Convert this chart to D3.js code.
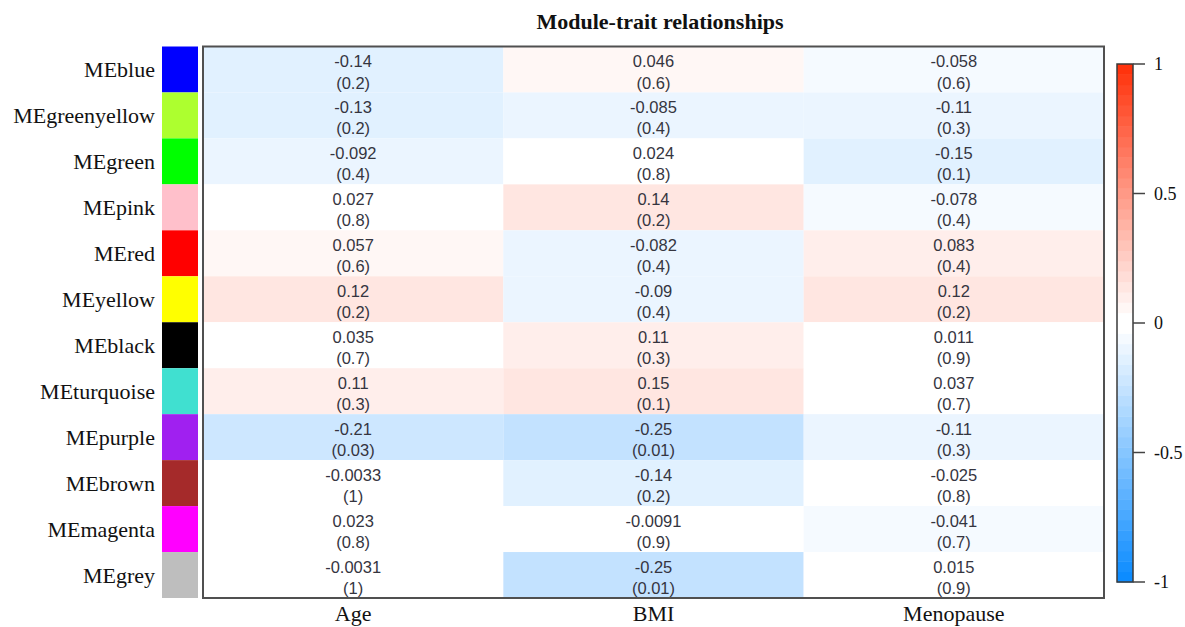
<!DOCTYPE html>
<html>
<head>
<meta charset="utf-8">
<script src="https://cdn.jsdelivr.net/npm/d3@7"></script>
<style>
  html, body { margin: 0; padding: 0; background: #fff; }
  svg { display: block; }
</style>
</head>
<body>
<svg id="chart" width="1185" height="627"></svg>
<script>
// Module eigengenes (rows) and clinical traits (columns)
const modules = ["MEblue", "MEgreenyellow", "MEgreen", "MEpink", "MEred", "MEyellow",
                 "MEblack", "MEturquoise", "MEpurple", "MEbrown", "MEmagenta", "MEgrey"];
const moduleColors = ["#0000FF", "#ADFF2F", "#00FF00", "#FFC0CB", "#FF0000", "#FFFF00",
                      "#000000", "#40E0D0", "#A020F0", "#A52A2A", "#FF00FF", "#BEBEBE"];
const traits = ["Age", "BMI", "Menopause"];

// Correlations and p-values per trait
const corAge = [-0.14, -0.13, -0.092, 0.027, 0.057, 0.12, 0.035, 0.11, -0.21, -0.0033, 0.023, -0.0031];
const pAge   = [0.2, 0.2, 0.4, 0.8, 0.6, 0.2, 0.7, 0.3, 0.03, 1, 0.8, 1];
const corBMI = [0.046, -0.085, 0.024, 0.14, -0.082, -0.09, 0.11, 0.15, -0.25, -0.14, -0.0091, -0.25];
const pBMI   = [0.6, 0.4, 0.8, 0.2, 0.4, 0.4, 0.3, 0.1, 0.01, 0.2, 0.9, 0.01];
const corMeno = [-0.058, -0.11, -0.15, -0.078, 0.083, 0.12, 0.011, 0.037, -0.11, -0.025, -0.041, 0.015];
const pMeno   = [0.6, 0.3, 0.1, 0.4, 0.4, 0.2, 0.9, 0.7, 0.3, 0.8, 0.7, 0.9];

const legendTicks = [1, 0.5, 0, -0.5, -1];

const corByTrait = [corAge, corBMI, corMeno];
const pByTrait = [pAge, pBMI, pMeno];

const cells = [];
modules.forEach((m, i) => {
  traits.forEach((t, j) => {
    cells.push({ module: m, trait: t, cor: corByTrait[j][i], p: pByTrait[j][i] });
  });
});

// Blue-white-red palette of 50 steps over [-1, 1]
const blueEnd = "rgb(13,140,255)", redEnd = "rgb(255,51,13)";
const nHalf = 25;
const palette = [];
for (let k = 0; k < nHalf; k++) palette.push(d3.interpolateRgb(blueEnd, "#ffffff")(k / (nHalf - 1)));
for (let k = 0; k < nHalf; k++) palette.push(d3.interpolateRgb("#ffffff", redEnd)(k / (nHalf - 1)));
const color = d3.scaleQuantize().domain([-1, 1]).range(palette);

const svg = d3.select("#chart");

const plotLeft = 203, plotRight = 1104, plotTop = 46.5, plotBottom = 598;
const x = d3.scaleBand().domain(traits).range([plotLeft, plotRight]);
const y = d3.scaleBand().domain(modules).range([plotTop, plotBottom]);

// Title
svg.append("text")
  .attr("x", 660).attr("y", 29)
  .attr("text-anchor", "middle")
  .attr("font-family", "Liberation Serif, serif")
  .attr("font-weight", "bold")
  .attr("font-size", 22)
  .attr("fill", "#111")
  .text("Module-trait relationships");

// Heatmap cells
svg.append("g").selectAll("rect")
  .data(cells)
  .join("rect")
  .attr("x", d => x(d.trait))
  .attr("y", d => y(d.module))
  .attr("width", x.bandwidth())
  .attr("height", y.bandwidth())
  .attr("fill", d => color(d.cor));

// Cell labels: correlation and p-value in parentheses
const labels = svg.append("g")
  .attr("font-family", "Liberation Sans, Arial, sans-serif")
  .attr("font-size", 16.5)
  .attr("fill", "#35353f")
  .attr("text-anchor", "middle");
labels.selectAll("text.cor")
  .data(cells)
  .join("text")
  .attr("class", "cor")
  .attr("x", d => x(d.trait) + x.bandwidth() / 2)
  .attr("y", d => y(d.module) + 20.5)
  .text(d => String(d.cor));
labels.selectAll("text.pval")
  .data(cells)
  .join("text")
  .attr("class", "pval")
  .attr("x", d => x(d.trait) + x.bandwidth() / 2)
  .attr("y", d => y(d.module) + 42)
  .text(d => "(" + String(d.p) + ")");

// Plot frame
svg.append("rect")
  .attr("x", plotLeft).attr("y", plotTop)
  .attr("width", plotRight - plotLeft).attr("height", plotBottom - plotTop)
  .attr("fill", "none")
  .attr("stroke", "#505050")
  .attr("stroke-width", 2);

// Module colour swatches
svg.append("g").selectAll("rect")
  .data(modules)
  .join("rect")
  .attr("x", 162).attr("width", 36)
  .attr("y", d => y(d))
  .attr("height", y.bandwidth())
  .attr("fill", (d, i) => moduleColors[i]);

// Row labels
svg.append("g").selectAll("text")
  .data(modules)
  .join("text")
  .attr("x", 155)
  .attr("y", d => y(d) + y.bandwidth() / 2 + 8)
  .attr("text-anchor", "end")
  .attr("font-family", "Liberation Serif, serif")
  .attr("font-size", 22)
  .attr("fill", "#111")
  .text(d => d);

// Column labels
svg.append("g").selectAll("text")
  .data(traits)
  .join("text")
  .attr("x", d => x(d) + x.bandwidth() / 2)
  .attr("y", 621)
  .attr("text-anchor", "middle")
  .attr("font-family", "Liberation Serif, serif")
  .attr("font-size", 22)
  .attr("fill", "#111")
  .text(d => d);

// Colour legend
const legX = 1117, legW = 16;
const ly = d3.scaleLinear().domain([1, -1]).range([64, 582]);
const steps = d3.range(palette.length).map(k => -1 + (k + 0.5) * 2 / palette.length);
svg.append("g").selectAll("rect")
  .data(steps)
  .join("rect")
  .attr("x", legX)
  .attr("width", legW)
  .attr("y", d => ly(d + 1 / palette.length))
  .attr("height", Math.abs(ly(0) - ly(2 / palette.length)) + 0.5)
  .attr("fill", d => color(d));
svg.append("rect")
  .attr("x", legX).attr("y", ly(1))
  .attr("width", legW).attr("height", ly(-1) - ly(1))
  .attr("fill", "none")
  .attr("stroke", "#3a3a3a")
  .attr("stroke-width", 1.5);

const legAxis = svg.append("g");
legAxis.selectAll("line")
  .data(legendTicks)
  .join("line")
  .attr("x1", legX + legW).attr("x2", legX + legW + 12)
  .attr("y1", d => ly(d)).attr("y2", d => ly(d))
  .attr("stroke", "#444")
  .attr("stroke-width", 1.5);
legAxis.selectAll("text")
  .data(legendTicks)
  .join("text")
  .attr("x", legX + legW + 21)
  .attr("y", d => ly(d) + 6)
  .attr("font-family", "Liberation Serif, serif")
  .attr("font-size", 18)
  .attr("fill", "#111")
  .text(d => String(d));
</script>
</body>
</html>
